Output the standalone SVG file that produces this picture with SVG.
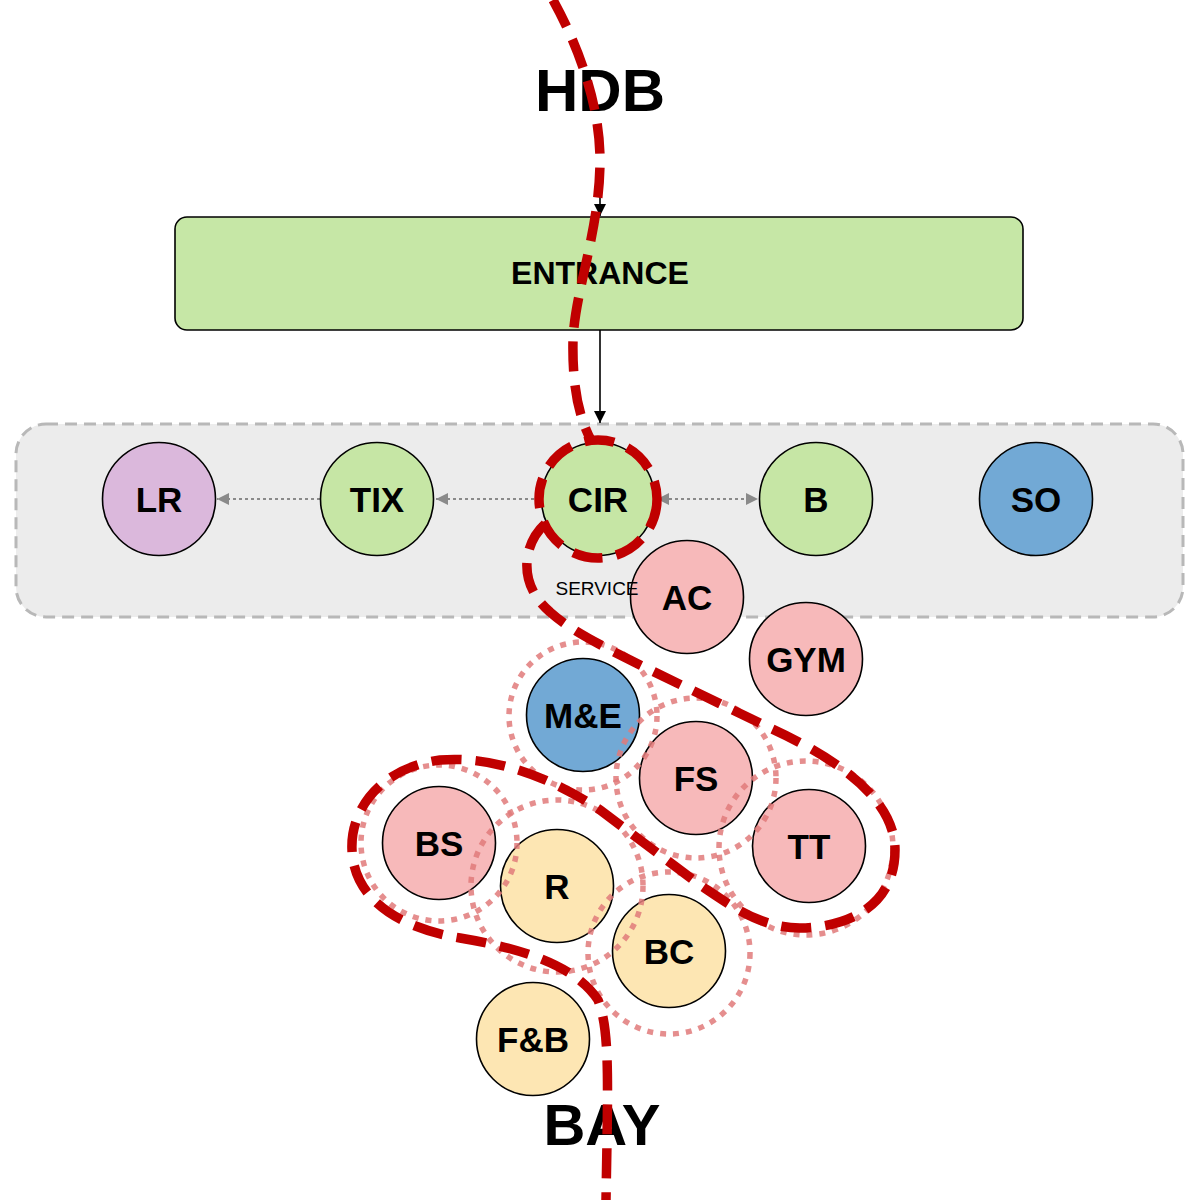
<svg xmlns="http://www.w3.org/2000/svg" width="1200" height="1200" viewBox="0 0 1200 1200">
<defs>
<style>
.node{stroke:#000;stroke-width:1.6}
.green{fill:#c6e6a5}.purple{fill:#dbb8dc}.blue{fill:#72a9d5}.pink{fill:#f7b9ba}.yellow{fill:#fde6b3}
.lbl{font-family:"Liberation Sans",Arial,sans-serif;font-weight:bold;font-size:35px;fill:#000;text-anchor:middle}
.big{font-family:"Liberation Sans",Arial,sans-serif;font-weight:bold;fill:#000;text-anchor:middle}
.ring{fill:none;stroke:#e07a7a;stroke-opacity:0.85;stroke-width:5.5;stroke-dasharray:6 7}
.route{fill:none;stroke:#c00000;stroke-width:9.5;stroke-dasharray:30 14}
.dot{stroke:#8a8a8a;stroke-width:2.2;stroke-dasharray:3 3;fill:none}
</style>
<marker id="ab" viewBox="0 0 10 10" refX="10" refY="5" markerWidth="12" markerHeight="12" markerUnits="userSpaceOnUse" orient="auto"><path d="M0,0 L10,5 L0,10 z" fill="#000"/></marker>
<marker id="ag" viewBox="0 0 10 10" refX="10" refY="5" markerWidth="12" markerHeight="12" markerUnits="userSpaceOnUse" orient="auto-start-reverse"><path d="M0,0 L10,5 L0,10 z" fill="#8a8a8a"/></marker>
</defs>
<rect width="1200" height="1200" fill="#fff"/>
<g id="service-zone">
<rect x="16" y="424" width="1167" height="193" rx="30" fill="#ececec" stroke="#b8b8b8" stroke-width="3" stroke-dasharray="12 7"/>
</g>
<g id="connectors">
<line x1="600" y1="168" x2="600" y2="216" stroke="#000" stroke-width="1.6" marker-end="url(#ab)"/>
<line x1="600" y1="330" x2="600" y2="423" stroke="#000" stroke-width="1.6" marker-end="url(#ab)"/>
<line class="dot" x1="320" y1="499" x2="217" y2="499" marker-end="url(#ag)"/>
<line class="dot" x1="540" y1="499" x2="436" y2="499" marker-end="url(#ag)"/>
<line class="dot" x1="657" y1="499" x2="758" y2="499" marker-start="url(#ag)" marker-end="url(#ag)"/>
</g>
<g id="hdb"><text class="big" x="600" y="111" font-size="60">HDB</text></g>
<g id="entrance">
<rect x="175" y="217" width="848" height="113" rx="12" fill="#c6e7a6" stroke="#000" stroke-width="1.6"/>
<text class="big" x="600" y="284" font-size="32">ENTRANCE</text>
</g>
<g id="LR"><circle class="node purple" cx="159" cy="499" r="56.5"/><text class="lbl" x="159" y="512">LR</text></g>
<g id="TIX"><circle class="node green" cx="377" cy="499" r="56.5"/><text class="lbl" x="377" y="512">TIX</text></g>
<g id="CIR"><circle class="node green" cx="598" cy="499" r="56.5"/><text class="lbl" x="598" y="512">CIR</text></g>
<g id="B"><circle class="node green" cx="816" cy="499" r="56.5"/><text class="lbl" x="816" y="512">B</text></g>
<g id="SO"><circle class="node blue" cx="1036" cy="499" r="56.5"/><text class="lbl" x="1036" y="512">SO</text></g>
<g id="AC"><circle class="node pink" cx="687" cy="597" r="56.5"/><text class="lbl" x="687" y="610">AC</text></g>
<g id="service-label"><text x="597" y="595" font-family="'Liberation Sans',Arial,sans-serif" font-size="19" text-anchor="middle" fill="#000">SERVICE</text></g>
<g id="GYM"><circle class="node pink" cx="806" cy="659" r="56.5"/><text class="lbl" x="806" y="672">GYM</text></g>
<g id="ME"><circle class="node blue" cx="583" cy="715" r="56.5"/><text class="lbl" x="583" y="728">M&amp;E</text></g>
<g id="FS"><circle class="node pink" cx="696" cy="778" r="56.5"/><text class="lbl" x="696" y="791">FS</text></g>
<g id="TT"><circle class="node pink" cx="809" cy="846" r="56.5"/><text class="lbl" x="809" y="859">TT</text></g>
<g id="BS"><circle class="node pink" cx="439" cy="843" r="56.5"/><text class="lbl" x="439" y="856">BS</text></g>
<g id="R"><circle class="node yellow" cx="557" cy="886" r="56.5"/><text class="lbl" x="557" y="899">R</text></g>
<g id="BC"><circle class="node yellow" cx="669" cy="951" r="56.5"/><text class="lbl" x="669" y="964">BC</text></g>
<g id="FB"><circle class="node yellow" cx="533" cy="1039" r="56.5"/><text class="lbl" x="533" y="1052">F&amp;B</text></g>
<g id="bay"><text class="big" x="602" y="1145" font-size="58">BAY</text></g>
<g id="clusters">
<circle class="ring" cx="583" cy="716" r="74"/>
<circle class="ring" cx="696" cy="778" r="80"/>
<circle class="ring" cx="806" cy="848" r="87"/>
<circle class="ring" cx="439" cy="843" r="78"/>
<circle class="ring" cx="557" cy="886" r="86"/>
<circle class="ring" cx="669" cy="953" r="81"/>
</g>
<g id="route">
<path class="route" d="M553,0 C575,40 600,100 600,160 C600,230 575,290 573,340 C572,390 580,420 592,442"/>
<circle class="route" cx="598" cy="499" r="59"/>
<path class="route" d="M545,524 C522,545 518,585 550,612 C570,630 600,645 640,665 L770,728 C840,760 895,800 895,850 C895,905 850,927 800,928 C760,928 730,905 700,885 L600,810 C560,783 500,755 440,760 C380,768 350,810 352,850 C354,900 400,928 460,938 C520,948 575,965 598,1000 C610,1030 608,1080 606,1200"/>
</g>
</svg>
